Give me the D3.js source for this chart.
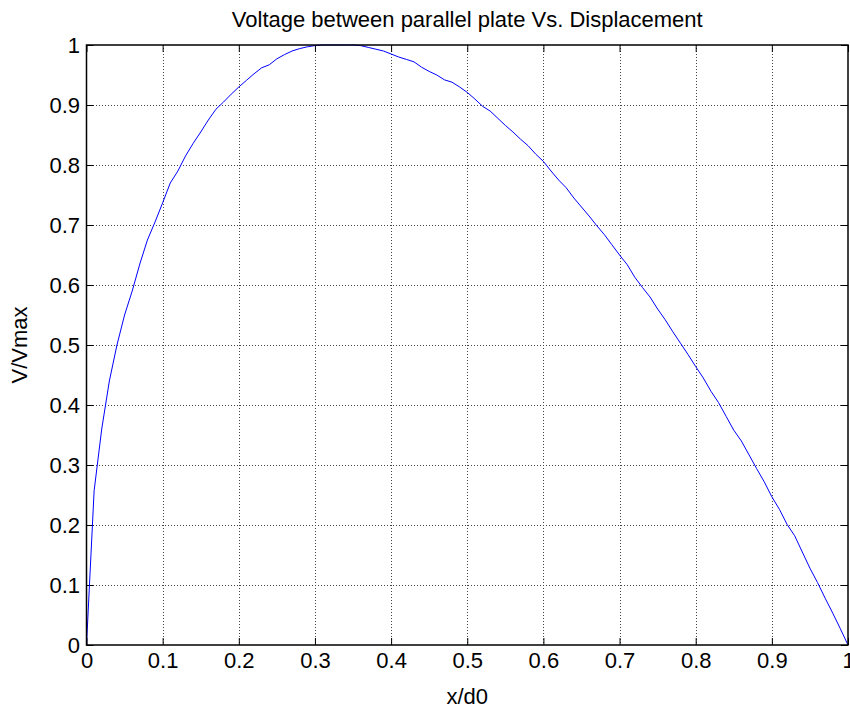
<!DOCTYPE html>
<html>
<head>
<meta charset="utf-8">
<script src="https://cdn.jsdelivr.net/npm/d3@7"></script>
<style>
  html, body { margin: 0; padding: 0; background: #fff; }
  svg { display: block; }
  text { font-family: "Liberation Sans", Arial, sans-serif; fill: #000; }
</style>
</head>
<body>
<svg id="chart" width="850" height="708"></svg>
<script>
// Normalised voltage across the plates, sampled at x/d0 = 0, 0.01, ..., 1
const xValues = d3.range(0, 101).map(i => i / 100);
const vValues = [
  0, 0.257, 0.36, 0.44, 0.50, 0.55, 0.59, 0.635, 0.675, 0.705,
  0.737, 0.770, 0.790, 0.815, 0.836, 0.855, 0.875, 0.893, 0.905, 0.918,
  0.930, 0.941, 0.952, 0.962, 0.967, 0.977, 0.984, 0.990, 0.994, 0.997,
  0.999, 1.0, 1.0, 1.0, 1.0, 1.0, 0.999, 0.996, 0.993, 0.990,
  0.985, 0.980, 0.976, 0.972, 0.963, 0.956, 0.950, 0.942, 0.938, 0.930,
  0.921, 0.910, 0.898, 0.890, 0.878, 0.866, 0.855, 0.843, 0.832, 0.818,
  0.806, 0.790, 0.775, 0.762, 0.745, 0.730, 0.715, 0.699, 0.684, 0.667,
  0.650, 0.634, 0.613, 0.596, 0.580, 0.560, 0.542, 0.522, 0.503, 0.484,
  0.464, 0.445, 0.423, 0.404, 0.381, 0.358, 0.340, 0.317, 0.294, 0.272,
  0.247, 0.226, 0.201, 0.182, 0.155, 0.128, 0.104, 0.078, 0.053, 0.027,
  0
];
const xTicks = [0, 0.1, 0.2, 0.3, 0.4, 0.5, 0.6, 0.7, 0.8, 0.9, 1];
const yTicks = [0, 0.1, 0.2, 0.3, 0.4, 0.5, 0.6, 0.7, 0.8, 0.9, 1];
const titleText = "Voltage between parallel plate Vs. Displacement";
const xLabelText = "x/d0";
const yLabelText = "V/Vmax";

const svg = d3.select("#chart");
const margin = { left: 86.5, right: 2, top: 45, bottom: 63 };
const W = 850, H = 708;
const x = d3.scaleLinear().domain([0, 1]).range([margin.left, W - margin.right]);
const y = d3.scaleLinear().domain([0, 1]).range([H - margin.bottom, margin.top]);
const fontSize = 22;
const tickFmt = d => d3.format("~g")(d);

// dotted grid
const grid = svg.append("g").attr("stroke", "#444").attr("stroke-width", 1)
  .attr("stroke-dasharray", "1,2").attr("shape-rendering", "crispEdges");
grid.selectAll("line.gx").data(xTicks.slice(1, -1)).join("line")
  .attr("x1", d => Math.round(x(d)) + 0.5).attr("x2", d => Math.round(x(d)) + 0.5)
  .attr("y1", y(1)).attr("y2", y(0));
grid.selectAll("line.gy").data(yTicks.slice(1, -1)).join("line")
  .attr("class", "gy")
  .attr("y1", d => Math.round(y(d)) + 0.5).attr("y2", d => Math.round(y(d)) + 0.5)
  .attr("x1", x(0)).attr("x2", x(1));

// inward ticks on all four sides, labels on bottom and left
const tickLen = 7;
const axBottom = d3.axisBottom(x).tickValues(xTicks).tickSize(-tickLen).tickPadding(7).tickFormat(tickFmt);
const axTop = d3.axisTop(x).tickValues(xTicks).tickSize(-tickLen).tickFormat("");
const axLeft = d3.axisLeft(y).tickValues(yTicks).tickSize(-tickLen).tickPadding(6.5).tickFormat(tickFmt);
const axRight = d3.axisRight(y).tickValues(yTicks).tickSize(-tickLen).tickFormat("");

function styleAxis(g) {
  g.select(".domain").remove();
  g.selectAll(".tick line").attr("stroke", "#000").attr("stroke-width", 1);
  g.selectAll(".tick text").attr("font-size", fontSize)
    .attr("font-family", "Liberation Sans, Arial, sans-serif").attr("fill", "#000");
}
svg.append("g").attr("transform", `translate(0,${y(0)})`).call(axBottom).call(styleAxis);
svg.append("g").attr("transform", `translate(0,${y(1)})`).call(axTop).call(styleAxis);
svg.append("g").attr("transform", `translate(${x(0)},0)`).call(axLeft).call(styleAxis);
svg.append("g").attr("transform", `translate(${x(1)},0)`).call(axRight).call(styleAxis);

// data curve
const line = d3.line().x((d, i) => x(xValues[i])).y(d => y(d));
svg.append("path").datum(vValues)
  .attr("d", line).attr("fill", "none").attr("stroke", "#0000ff").attr("stroke-width", 1);

// box
svg.append("rect").attr("x", x(0)).attr("y", y(1))
  .attr("width", x(1) - x(0)).attr("height", y(0) - y(1))
  .attr("fill", "none").attr("stroke", "#000").attr("stroke-width", 1.5);

// title and axis labels
svg.append("text").attr("x", (x(0) + x(1)) / 2).attr("y", 27)
  .attr("text-anchor", "middle").attr("font-size", fontSize).text(titleText);
svg.append("text").attr("x", (x(0) + x(1)) / 2).attr("y", 704)
  .attr("text-anchor", "middle").attr("font-size", fontSize).text(xLabelText);
svg.append("text").attr("transform", `translate(27,${(y(0) + y(1)) / 2}) rotate(-90)`)
  .attr("text-anchor", "middle").attr("font-size", fontSize).text(yLabelText);
</script>
</body>
</html>
